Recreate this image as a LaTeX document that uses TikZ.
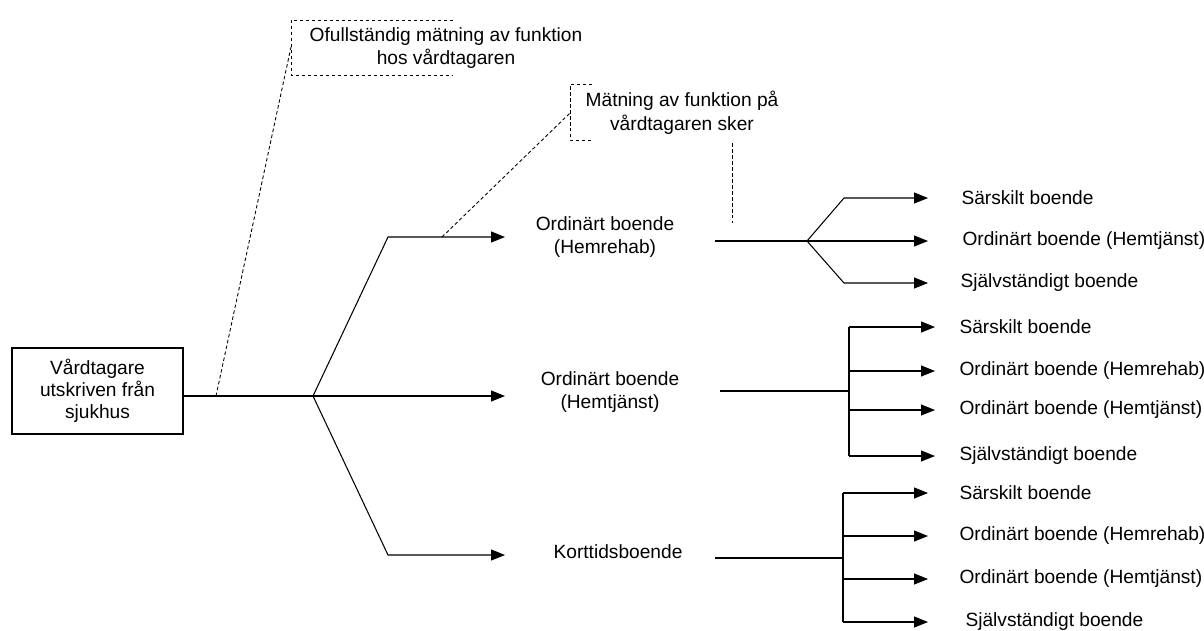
\documentclass[tikz,border=0pt]{standalone}
\usepackage{fontspec}
\setmainfont{Liberation Sans}
\usetikzlibrary{positioning, arrows.meta}

\tikzset{
  lbl/.style={font=\fontsize{10.9}{13.5}\selectfont, align=center, inner sep=0pt},
  dest/.style={font=\fontsize{10.9}{13.5}\selectfont, anchor=west, inner sep=0pt},
  arr/.style={-{Triangle[length=0.28cm, width=0.22cm]}},
  lead/.style={dash pattern=on 0.07cm off 0.05cm, line width=0.5pt},
}

\begin{document}
\begin{tikzpicture}[x=0.02cm, y=-0.02cm, line width=0.6pt]
		\useasboundingbox (0,0) rectangle (1204,630);
		
		% start box
		\node[draw, lbl, font=\fontsize{10.9}{12.5}\selectfont, minimum width=3.42cm, minimum height=1.72cm] (start) at (97.5,391) {Vårdtagare\\utskriven från\\sjukhus};
		\coordinate (fork1) at (313,396);
		\draw[line width=0.9pt] (start.east |- fork1) -- (fork1);
		
		% first fork
		\coordinate (up1) at (388,237);
		\coordinate (dn1) at (388,555);
		\coordinate (tipA) at (505,237);
		\coordinate (tipB) at (505,396);
		\coordinate (tipC) at (505,555);
		\draw[arr] (fork1) -- (up1) -- (tipA);
		\draw[arr] (fork1) -- (tipB);
		\draw[arr] (fork1) -- (dn1) -- (tipC);
		
		\node[lbl] (hemrehab) at (605,237) {Ordinärt boende\\(Hemrehab)};
		\node[lbl] (hemtj) at (610,392) {Ordinärt boende\\(Hemtjänst)};
		\node[lbl] (kort) at (618,552) {Korttidsboende};
		
		% callouts
		\node[lbl] (note1) at (446,48) {Ofullständig mätning av funktion\\hos vårdtagaren};
		\draw[lead] (453,20) -- (291,20) -- (291,75) -- (453,75);
		\coordinate (note1l) at (291,47);
		\coordinate (lead1) at (216,396);
		\draw[lead] (lead1) -- (note1l);
		
		\node[lbl] (note2) at (682,113) {Mätning av funktion på\\vårdtagaren sker};
		\draw[lead] (592,84) -- (570,84) -- (570,140) -- (592,140);
		\coordinate (note2l) at (570,113);
		\coordinate (lead2) at (442,237);
		\draw[lead] (lead2) -- (note2l);
		\coordinate (mark2t) at (732,143);
		\coordinate (mark2b) at (732,223);
		\draw[lead] (mark2t) -- (mark2b);
		
		% fork from Hemrehab
		\coordinate (s1) at (715,241);
		\coordinate (f2) at (807,241);
		\coordinate (u2) at (844,198);
		\coordinate (d2) at (844,283);
		\coordinate (t21) at (928,198);
		\coordinate (t22) at (928,241);
		\coordinate (t23) at (928,283);
		\draw (s1) -- (f2);
		\draw[arr] (f2) -- (u2) -- (t21);
		\draw[arr] (f2) -- (t22);
		\draw[arr] (f2) -- (d2) -- (t23);
		\node[dest] (r21) at (961,198) {Särskilt boende};
		\node[dest] (r22) at (962,241) {Ordinärt boende (Hemtjänst)};
		\node[dest] (r23) at (960,283) {Självständigt boende};
		
		% fork from Hemtjänst
		\coordinate (s2) at (720,391);
		\coordinate (f3) at (849,391);
		\coordinate (f3t) at (849,327);
		\coordinate (f3b) at (849,456);
		\draw (s2) -- (f3);
		\draw (f3t) -- (f3b);
		\foreach \y/\txt [count=\i] in {327/Särskilt boende, 371/Ordinärt boende (Hemrehab), 410/Ordinärt boende (Hemtjänst), 456/Självständigt boende}{
			\coordinate (b3\i) at (849,\y);
			\coordinate (t3\i) at (935,\y);
			\draw[arr] (b3\i) -- (t3\i);
			\node[dest] (r3\i) at (959,\y) {\txt};
		}
		
		% fork from Korttidsboende
		\coordinate (s3) at (715,558);
		\coordinate (f4) at (843,558);
		\coordinate (f4t) at (843,493);
		\coordinate (f4b) at (843,622);
		\draw (s3) -- (f4);
		\draw (f4t) -- (f4b);
		\foreach \y/\txt/\x [count=\i] in {493/Särskilt boende/959, 536/Ordinärt boende (Hemrehab)/959, 579/Ordinärt boende (Hemtjänst)/959, 622/Självständigt boende/965}{
			\coordinate (b4\i) at (843,\y);
			\coordinate (t4\i) at (928,\y);
			\draw[arr] (b4\i) -- (t4\i);
			\node[dest] (r4\i) at (\x,\y) {\txt};
		}
		
	\end{tikzpicture}
\end{document}
